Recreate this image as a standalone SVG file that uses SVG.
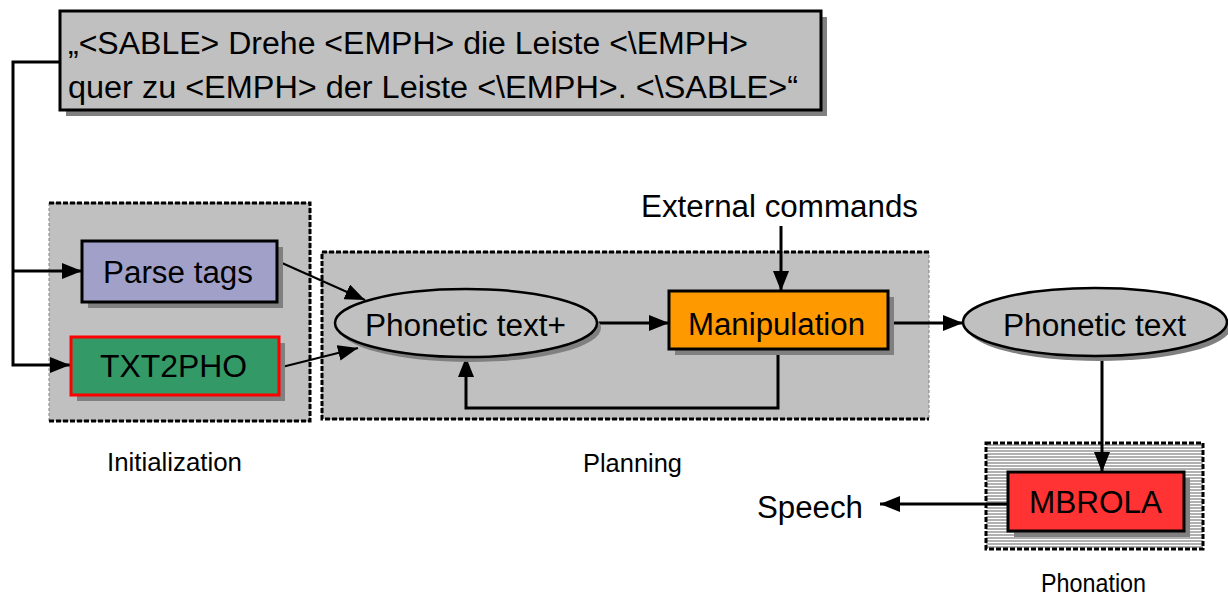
<svg xmlns="http://www.w3.org/2000/svg" width="1228" height="597" viewBox="0 0 1228 597">
<style>
text{font-family:"Liberation Sans",Arial,sans-serif;fill:#000}
.big{font-size:31px}
.lbl{font-size:25px}
.sh{fill:#808080}
.node{stroke:#000;stroke-width:3}
.con{fill:none;stroke:#000;stroke-width:3}
.thin{fill:none;stroke:#000;stroke-width:2}
.gb{fill:none;stroke:#000;stroke-width:3;stroke-dasharray:5,2}
.gt{fill:none;stroke:#808080;stroke-width:1;stroke-dasharray:3,2}
</style>
<defs>
<marker id="ah" markerUnits="userSpaceOnUse" markerWidth="20" markerHeight="16" refX="20" refY="8" orient="auto">
<path d="M0,0 L20,8 L0,16 z" fill="#000"/>
</marker>
<pattern id="stripes" patternUnits="userSpaceOnUse" width="4" height="3">
<rect width="4" height="3" fill="#fff"/>
<rect width="4" height="2" fill="#b0b0b0"/>
</pattern>
</defs>

<g id="group-initialization">
<rect x="49" y="203" width="261" height="218" fill="#c0c0c0"/>
<rect x="49" y="203" width="261" height="218" class="gt"/>
<path d="M49,203 H310 V421 H49" class="gb"/>
<text class="lbl" x="107" y="471" textLength="135" lengthAdjust="spacingAndGlyphs">Initialization</text>
</g>
<g id="group-planning">
<rect x="322" y="252" width="607" height="167" fill="#c0c0c0"/>
<rect x="322" y="252" width="607" height="167" class="gt"/>
<path d="M929,252 H322 V419 H929" class="gb"/>
<text class="lbl" x="583" y="472" textLength="99" lengthAdjust="spacingAndGlyphs">Planning</text>
</g>
<g id="group-phonation">
<rect x="986" y="443" width="217" height="106" fill="url(#stripes)"/>
<rect x="986" y="443" width="217" height="106" class="gb"/>
<text class="lbl" x="1041" y="592" textLength="105" lengthAdjust="spacingAndGlyphs">Phonation</text>
</g>

<g id="connectors">
<path d="M60,62 H13 V365 H70" class="con" marker-end="url(#ah)"/>
<path d="M13,271 H82" class="con" marker-end="url(#ah)"/>
<path d="M273,259 L365,300" class="thin" marker-end="url(#ah)"/>
<path d="M282,367 L358,348" class="thin" marker-end="url(#ah)"/>
<path d="M781,226 V291" class="con" marker-end="url(#ah)"/>
<path d="M597,323 H669" class="con" marker-end="url(#ah)"/>
<path d="M778,349 V408 H466 V357" class="con" marker-end="url(#ah)"/>
<path d="M888,323 H963" class="con" marker-end="url(#ah)"/>
<path d="M1102,357 V472" class="con" marker-end="url(#ah)"/>
<path d="M1008,504 H880" class="con" marker-end="url(#ah)"/>
</g>

<g id="node-sable">
<rect x="66" y="17" width="761" height="99" class="sh"/>
<rect x="60" y="11" width="761" height="99" fill="#c0c0c0" class="node"/>
<text class="big" x="68" y="54" textLength="680" lengthAdjust="spacingAndGlyphs">„&lt;SABLE&gt; Drehe &lt;EMPH&gt; die Leiste &lt;\EMPH&gt;</text>
<text class="big" x="68" y="98" textLength="730" lengthAdjust="spacingAndGlyphs">quer zu &lt;EMPH&gt; der Leiste &lt;\EMPH&gt;. &lt;\SABLE&gt;“</text>
</g>

<g id="node-parse-tags">
<rect x="88" y="247" width="195" height="61" class="sh"/>
<rect x="82" y="241" width="195" height="61" fill="#a0a0c8" class="node"/>
<text class="big" x="103" y="283" textLength="150" lengthAdjust="spacingAndGlyphs">Parse tags</text>
</g>

<g id="node-txt2pho">
<rect x="77" y="343" width="208" height="58" class="sh"/>
<rect x="71" y="337" width="208" height="58" fill="#339966" stroke="#ff0000" stroke-width="3"/>
<text class="big" x="100" y="377" textLength="147" lengthAdjust="spacingAndGlyphs">TXT2PHO</text>
</g>

<g id="node-phonetic-text-plus">
<ellipse cx="470" cy="328" rx="131" ry="34" class="sh"/>
<ellipse cx="466" cy="323" rx="131" ry="34" fill="#c0c0c0" stroke="#000" stroke-width="2.5"/>
<text class="big" x="365" y="336" textLength="201" lengthAdjust="spacingAndGlyphs">Phonetic text+</text>
</g>

<g id="node-external-commands">
<text class="big" x="641" y="217" textLength="277" lengthAdjust="spacingAndGlyphs">External commands</text>
</g>

<g id="node-manipulation">
<rect x="675" y="297" width="219" height="58" class="sh"/>
<rect x="669" y="291" width="219" height="58" fill="#ff9900" class="node"/>
<text class="big" x="688" y="335" textLength="177" lengthAdjust="spacingAndGlyphs">Manipulation</text>
</g>

<g id="node-phonetic-text">
<ellipse cx="1099" cy="327" rx="132" ry="34" class="sh"/>
<ellipse cx="1095" cy="322" rx="132" ry="34" fill="#c0c0c0" stroke="#000" stroke-width="2.5"/>
<text class="big" x="1003" y="336" textLength="183" lengthAdjust="spacingAndGlyphs">Phonetic text</text>
</g>

<g id="node-mbrola">
<rect x="1014" y="478" width="176" height="59" class="sh"/>
<rect x="1008" y="472" width="176" height="59" fill="#ff3333" class="node"/>
<text class="big" x="1029" y="513" textLength="133" lengthAdjust="spacingAndGlyphs">MBROLA</text>
</g>

<g id="node-speech">
<text class="big" x="757" y="518" textLength="106" lengthAdjust="spacingAndGlyphs">Speech</text>
</g>
</svg>
